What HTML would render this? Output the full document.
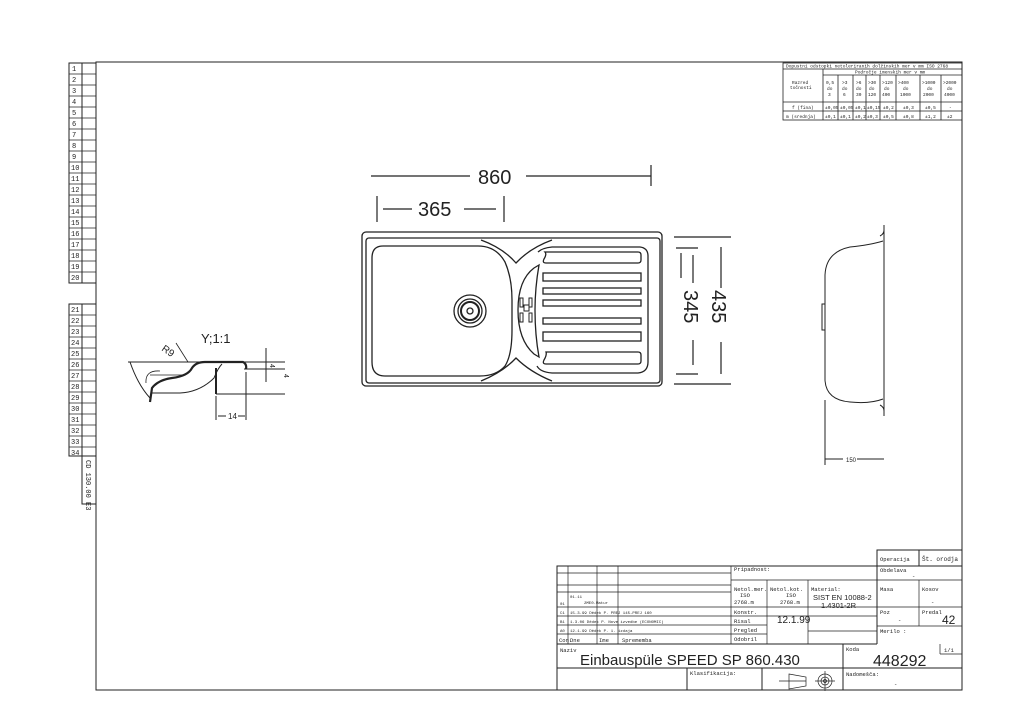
<!DOCTYPE html>
<html><head><meta charset="utf-8"><style>
html,body{margin:0;padding:0;background:#fff;}
svg{display:block;font-family:"Liberation Sans",sans-serif;}
.t{font-family:"Liberation Mono",monospace;fill:#222;}
</style></head><body>
<svg width="1024" height="726" viewBox="0 0 1024 726" xmlns="http://www.w3.org/2000/svg">
<g fill="none" stroke="#222" stroke-width="1">
<rect x="96" y="62" width="866" height="628"/>
<rect x="69" y="63" width="27" height="220"/>
<line x1="82" y1="63" x2="82" y2="283"/>
<rect x="69" y="304" width="27" height="152"/>
<line x1="82" y1="304" x2="82" y2="456"/>
<rect x="82" y="456" width="14" height="48"/>
</g>
<g stroke="#222" stroke-width="0.8">
<line x1="69" y1="74" x2="96" y2="74"/><line x1="69" y1="85" x2="96" y2="85"/><line x1="69" y1="96" x2="96" y2="96"/><line x1="69" y1="107" x2="96" y2="107"/><line x1="69" y1="118" x2="96" y2="118"/><line x1="69" y1="129" x2="96" y2="129"/><line x1="69" y1="140" x2="96" y2="140"/><line x1="69" y1="151" x2="96" y2="151"/><line x1="69" y1="162" x2="96" y2="162"/><line x1="69" y1="173" x2="96" y2="173"/><line x1="69" y1="184" x2="96" y2="184"/><line x1="69" y1="195" x2="96" y2="195"/><line x1="69" y1="206" x2="96" y2="206"/><line x1="69" y1="217" x2="96" y2="217"/><line x1="69" y1="228" x2="96" y2="228"/><line x1="69" y1="239" x2="96" y2="239"/><line x1="69" y1="250" x2="96" y2="250"/><line x1="69" y1="261" x2="96" y2="261"/><line x1="69" y1="272" x2="96" y2="272"/>
<line x1="69" y1="315" x2="96" y2="315"/><line x1="69" y1="326" x2="96" y2="326"/><line x1="69" y1="337" x2="96" y2="337"/><line x1="69" y1="348" x2="96" y2="348"/><line x1="69" y1="359" x2="96" y2="359"/><line x1="69" y1="370" x2="96" y2="370"/><line x1="69" y1="381" x2="96" y2="381"/><line x1="69" y1="392" x2="96" y2="392"/><line x1="69" y1="403" x2="96" y2="403"/><line x1="69" y1="414" x2="96" y2="414"/><line x1="69" y1="425" x2="96" y2="425"/><line x1="69" y1="436" x2="96" y2="436"/><line x1="69" y1="447" x2="96" y2="447"/>
</g>
<g class="t" font-size="7">
<text x="72" y="71">1</text><text x="72" y="82">2</text><text x="72" y="93">3</text><text x="72" y="104">4</text><text x="72" y="115">5</text><text x="72" y="126">6</text><text x="72" y="137">7</text><text x="72" y="148">8</text><text x="72" y="159">9</text><text x="71" y="170">10</text><text x="71" y="181">11</text><text x="71" y="192">12</text><text x="71" y="203">13</text><text x="71" y="214">14</text><text x="71" y="225">15</text><text x="71" y="236">16</text><text x="71" y="247">17</text><text x="71" y="258">18</text><text x="71" y="269">19</text><text x="71" y="280">20</text>
<text x="71" y="312">21</text><text x="71" y="323">22</text><text x="71" y="334">23</text><text x="71" y="345">24</text><text x="71" y="356">25</text><text x="71" y="367">26</text><text x="71" y="378">27</text><text x="71" y="389">28</text><text x="71" y="400">29</text><text x="71" y="411">30</text><text x="71" y="422">31</text><text x="71" y="433">32</text><text x="71" y="444">33</text><text x="71" y="455">34</text>
<text transform="translate(86,460) rotate(90)" font-size="7">CD 130.00 E3</text>
</g>

<g fill="none" stroke="#222" stroke-width="0.8">
<rect x="783" y="63" width="179" height="57"/>
<line x1="783" y1="69" x2="962" y2="69"/>
<line x1="823" y1="75" x2="962" y2="75"/>
<line x1="783" y1="102" x2="962" y2="102"/>
<line x1="783" y1="111" x2="962" y2="111"/>
<line x1="823" y1="69" x2="823" y2="120"/>
<line x1="838" y1="75" x2="838" y2="120"/><line x1="853" y1="75" x2="853" y2="120"/><line x1="866" y1="75" x2="866" y2="120"/><line x1="880" y1="75" x2="880" y2="120"/><line x1="896" y1="75" x2="896" y2="120"/><line x1="920" y1="75" x2="920" y2="120"/><line x1="941" y1="75" x2="941" y2="120"/>
</g>
<g class="t" font-size="4.5">
<text x="786" y="67.5">Dopustni odstopki netoleriranih dolžinskih mer v mm ISO 2768</text>
<text x="855" y="73.5">Področje imenskih mer v mm</text>
<text x="792" y="84">Razred</text><text x="790" y="89">točnosti</text>
<text x="826" y="84">0,5</text><text x="827" y="90">do</text><text x="828" y="96">3</text>
<text x="842" y="84">&gt;3</text><text x="842" y="90">do</text><text x="843" y="96">6</text>
<text x="856" y="84">&gt;6</text><text x="856" y="90">do</text><text x="856" y="96">30</text>
<text x="868" y="84">&gt;30</text><text x="869" y="90">do</text><text x="868" y="96">120</text>
<text x="882" y="84">&gt;120</text><text x="884" y="90">do</text><text x="882" y="96">400</text>
<text x="898" y="84">&gt;400</text><text x="903" y="90">do</text><text x="900" y="96">1000</text>
<text x="922" y="84">&gt;1000</text><text x="927" y="90">do</text><text x="923" y="96">2000</text>
<text x="943" y="84">&gt;2000</text><text x="947" y="90">do</text><text x="944" y="96">4000</text>
<text x="792" y="109">f (fina)</text><text x="825" y="109">±0,05</text><text x="840" y="109">±0,05</text><text x="855" y="109">±0,1</text><text x="867" y="109">±0,15</text><text x="883" y="109">±0,2</text><text x="903" y="109">±0,3</text><text x="925" y="109">±0,5</text><text x="949" y="109">-</text>
<text x="786" y="118">m (srednja)</text><text x="825" y="118">±0,1</text><text x="840" y="118">±0,1</text><text x="855" y="118">±0,2</text><text x="867" y="118">±0,3</text><text x="883" y="118">±0,5</text><text x="903" y="118">±0,8</text><text x="925" y="118">±1,2</text><text x="947" y="118">±2</text>
</g>

<g stroke="#222" stroke-width="1.2" fill="none">
<line x1="371" y1="176" x2="470" y2="176"/><line x1="526" y1="176" x2="651" y2="176"/>
<line x1="651" y1="165" x2="651" y2="186"/>
<line x1="377" y1="196" x2="377" y2="222"/><line x1="504" y1="196" x2="504" y2="222"/>
<line x1="383" y1="209" x2="412" y2="209"/><line x1="464" y1="209" x2="496" y2="209"/>
<line x1="674" y1="237" x2="731" y2="237"/><line x1="674" y1="384" x2="731" y2="384"/>
<line x1="676" y1="248" x2="698" y2="248"/><line x1="676" y1="374" x2="698" y2="374"/>
<line x1="681" y1="253" x2="681" y2="278"/><line x1="693" y1="255" x2="693" y2="283"/>
<line x1="693" y1="340" x2="693" y2="365"/>
<line x1="721" y1="247" x2="721" y2="288"/><line x1="721" y1="342" x2="721" y2="374"/>
</g>
<g fill="#222" font-size="20">
<text x="478" y="184">860</text>
<text x="418" y="216">365</text>
<text transform="translate(684,290) rotate(90)">345</text>
<text transform="translate(712,290) rotate(90)">435</text>
</g>

<g fill="none" stroke="#222" stroke-width="1.3">
<rect x="362" y="232" width="300" height="154" rx="4"/>
<rect x="366" y="238" width="294" height="145" rx="3"/>
<path d="M383 246 L478 246 Q496 246 505 262 Q512 278 512 300 L512 330 Q512 355 505 366 Q496 376 480 376 L385 376 Q372 376 372 362 L372 258 Q372 246 383 246 Z"/>
<path d="M481 240 Q503 248 516 263 Q530 248 552 240"/>
<path d="M481 381 Q503 372 516 358 Q530 372 552 381"/>
<path d="M534 268 L539 265 Q535 288 535 310 Q535 335 539 357 L534 354 Q518 340 518 310 Q518 280 534 268 Z"/>
<path d="M545 252 L638 252 Q641 252 641 255 L641 260 Q641 263 638 263 L546 263 Q542 263 544 259 Q547 254 545 252 Z"/>
<path d="M538 252 Q542 248 552 247 L640 247 Q648 248 648 256 L648 362 Q648 372 638 373 L552 373 Q540 372 537 366"/>
<rect x="543" y="273" width="98" height="8"/>
<rect x="543" y="288" width="98" height="6"/>
<rect x="543" y="300" width="98" height="6"/>
<rect x="543" y="318" width="98" height="6"/>
<rect x="543" y="332" width="98" height="9"/>
<path d="M546 352 L638 352 Q641 352 641 355 L641 361 Q641 364 638 364 L546 364 Q542 364 544 360 Q547 355 546 352 Z"/>
<circle cx="470" cy="311" r="16"/>
<circle cx="470" cy="311" r="12"/>
<circle cx="470" cy="311" r="9" stroke-width="2"/>
<circle cx="470" cy="311" r="3"/>
<rect x="520" y="298" width="3" height="9" stroke-width="1"/>
<rect x="524" y="305" width="5" height="6" stroke-width="1"/>
<rect x="529" y="298" width="3" height="9" stroke-width="1"/>
<rect x="520" y="313" width="3" height="9" stroke-width="1"/>
<rect x="529" y="313" width="3" height="9" stroke-width="1"/>
</g>

<g fill="none" stroke="#222" stroke-width="1">
<line x1="884" y1="225" x2="884" y2="416"/>
<path d="M883 241 Q870 245 850 247 Q826 252 825 275 L825 380 Q826 400 850 402 Q870 404 883 399"/>
<path d="M880 236 Q884 234 884 230 M880 405 Q884 407 884 411"/>
<rect x="822" y="304" width="3" height="26"/>
<line x1="825" y1="400" x2="825" y2="465"/>
<line x1="825" y1="459" x2="843" y2="459"/><line x1="857" y1="459" x2="884" y2="459"/>
</g>
<text x="846" y="462" font-size="6" fill="#222">150</text>

<text x="201" y="343" font-size="13" fill="#222">Y;1:1</text>
<text transform="translate(161,350) rotate(35)" font-size="10" fill="#222">R9</text>
<g fill="none" stroke="#222" stroke-width="1">
<line x1="128" y1="362" x2="285" y2="362"/>
<line x1="244" y1="369" x2="285" y2="369"/>
<line x1="216" y1="394" x2="285" y2="394"/>
<path d="M130 362 Q138 385 150 398"/>
<path d="M146 383 Q145 370 160 371" stroke-width="0.8"/>
<line x1="150" y1="375" x2="185" y2="375" stroke-width="0.8"/>
<path d="M150 402 L152 388 Q158 380 172 378 Q188 376 192 368 Q196 362 205 362 L243 362 Q247 364 246 369" stroke-width="2.2"/>
<path d="M152 393 L180 393 Q200 392 214 378 Q218 368 222 364" stroke-width="1"/>
<line x1="216" y1="368" x2="216" y2="394" stroke-width="2"/>
<line x1="216" y1="396" x2="216" y2="420"/><line x1="246" y1="372" x2="246" y2="420"/>
<line x1="218" y1="416" x2="226" y2="416"/><line x1="238" y1="416" x2="245" y2="416"/>
<line x1="266" y1="348" x2="266" y2="382"/>
<line x1="176" y1="343" x2="188" y2="362" stroke-width="0.8"/>
</g>
<text x="228" y="419" font-size="8" fill="#222">14</text>
<text transform="translate(270,364) rotate(90)" font-size="7" fill="#222">4</text>
<text transform="translate(284,374) rotate(90)" font-size="7" fill="#222">4</text>

<g fill="none" stroke="#222" stroke-width="1">
<rect x="557" y="566" width="405" height="124"/>
<rect x="877" y="550" width="85" height="16"/>
<line x1="919" y1="550" x2="919" y2="566"/>
<line x1="557" y1="644" x2="877" y2="644"/>
<line x1="557" y1="668" x2="962" y2="668"/>
<line x1="877" y1="566" x2="877" y2="644"/>
<line x1="843" y1="644" x2="843" y2="690"/>
<line x1="687" y1="668" x2="687" y2="690"/><line x1="762" y1="668" x2="762" y2="690"/>
</g>
<g fill="none" stroke="#222" stroke-width="0.7">
<line x1="557" y1="573" x2="731" y2="573"/>
<line x1="557" y1="585" x2="731" y2="585"/>
<line x1="557" y1="592" x2="731" y2="592"/>
<line x1="557" y1="607" x2="877" y2="607"/>
<line x1="557" y1="616" x2="877" y2="616"/>
<line x1="557" y1="625" x2="767" y2="625"/>
<line x1="557" y1="634" x2="767" y2="634"/>
<line x1="808" y1="631" x2="877" y2="631"/>
<line x1="557" y1="644" x2="767" y2="644"/>
<line x1="731" y1="580" x2="877" y2="580"/>
<line x1="568" y1="566" x2="568" y2="644"/>
<line x1="597" y1="566" x2="597" y2="644"/>
<line x1="618" y1="566" x2="618" y2="644"/>
<line x1="731" y1="566" x2="731" y2="644"/>
<line x1="767" y1="580" x2="767" y2="644"/>
<line x1="808" y1="580" x2="808" y2="644"/>
<line x1="877" y1="580" x2="962" y2="580"/>
<line x1="877" y1="607" x2="962" y2="607"/>
<line x1="877" y1="626" x2="962" y2="626"/>
<line x1="919" y1="580" x2="919" y2="626"/>
<line x1="940" y1="644" x2="940" y2="654"/><line x1="940" y1="654" x2="962" y2="654"/>
<path d="M789 674 L806 677 L806 686 L789 689 Z"/>
<line x1="779" y1="681" x2="806" y2="681"/>
<circle cx="825" cy="681" r="7"/><circle cx="825" cy="681" r="4"/><circle cx="825" cy="681" r="1.5"/>
<line x1="815" y1="681" x2="835" y2="681"/><line x1="825" y1="671" x2="825" y2="691"/>
</g>
<g class="t" font-size="5.5">
<text x="880" y="561">Operacija</text><text x="922" y="561" font-size="6">Št. orodja</text>
<text x="734" y="571">Pripadnost:</text>
<text x="880" y="572">Obdelava</text><text x="912" y="578">-</text>
<text x="734" y="591">Netol.mer.</text><text x="740" y="597">ISO</text><text x="734" y="604">2768.m</text>
<text x="770" y="591">Netol.kot.</text><text x="786" y="597">ISO</text><text x="780" y="604">2768.m</text>
<text x="811" y="591">Material:</text>
<text x="880" y="591">Masa</text><text x="922" y="591">Kosov</text><text x="931" y="604">-</text>
<text x="734" y="614">Konstr.</text>
<text x="734" y="623">Risal</text><text x="734" y="632">Pregled</text><text x="734" y="641">Odobril</text>
<text x="880" y="614">Poz</text><text x="898" y="622">-</text>
<text x="922" y="614">Predal</text>
<text x="880" y="633">Merilo :</text>
<text x="560" y="605" font-size="4">01</text><text x="570" y="598" font-size="4">01.11</text><text x="584" y="604" font-size="4">2ME0.Matur</text>
<text x="560" y="614" font-size="4">C1</text><text x="570" y="614" font-size="4">15.3.99 Dědek P.  PREJ 145-PREJ 160</text>
<text x="560" y="623" font-size="4">B1</text><text x="570" y="623" font-size="4">1.3.06  Dědek P.  Nove izvedbe (ECONOMIC)</text>
<text x="560" y="632" font-size="4">A0</text><text x="570" y="632" font-size="4">12.1.99 Dědek P.  1. izdaja</text>
<text x="559" y="642">Con.</text><text x="570" y="642">Dne</text><text x="599" y="642">Ime</text><text x="622" y="642">Sprememba</text>
<text x="560" y="652">Naziv</text>
<text x="846" y="651">Koda</text><text x="944" y="652">1/1</text>
<text x="690" y="675">Klasifikacija:</text>
<text x="846" y="676">Nadomešča:</text><text x="894" y="686">-</text>
</g>
<text x="813" y="600" font-size="7.5" fill="#222">SIST EN 10088-2</text>
<text x="821" y="608" font-size="7.5" fill="#222">1.4301-2R</text>
<text x="777" y="623" font-size="10" fill="#222">12.1.99</text>
<text x="942" y="624" font-size="12" fill="#222">42</text>
<text x="580" y="665" font-size="15" fill="#222">Einbauspüle SPEED SP 860.430</text>
<text x="873" y="666" font-size="16" fill="#222">448292</text>
</svg>
</body></html>
